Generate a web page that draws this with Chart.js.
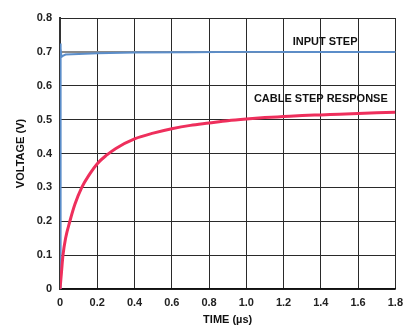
<!DOCTYPE html>
<html>
<head>
<meta charset="utf-8">
<script src="https://cdn.jsdelivr.net/npm/chart.js@4/dist/chart.umd.min.js"></script>
<style>
html,body{margin:0;padding:0;background:#fff;}
#c{display:block;}
</style>
</head>
<body>
<canvas id="c" width="410" height="335"></canvas>
<script>
// Data
const xTicks = [0, 0.2, 0.4, 0.6, 0.8, 1.0, 1.2, 1.4, 1.6, 1.8];
const yTicks = [0, 0.1, 0.2, 0.3, 0.4, 0.5, 0.6, 0.7, 0.8];

const cableTime  = [0, 0.008, 0.016, 0.03, 0.053, 0.08, 0.117, 0.16, 0.2, 0.25, 0.3, 0.4, 0.5, 0.6, 0.7, 0.8, 0.9, 1.0, 1.1, 1.2, 1.3, 1.4, 1.5, 1.6, 1.7, 1.8];
const cableVolts = [0, 0.05, 0.1, 0.15, 0.2, 0.25, 0.3, 0.34, 0.37, 0.395, 0.415, 0.443, 0.46, 0.473, 0.483, 0.49, 0.497, 0.502, 0.506, 0.509, 0.512, 0.514, 0.516, 0.518, 0.52, 0.522];

const inputTime  = [0, 0.002, 0.003, 0.005, 0.008, 0.015, 0.03, 0.1, 0.2, 0.4, 0.7, 1.0, 1.4, 1.8];
const inputVolts = [0, 0, 0.725, 0.71, 0.685, 0.688, 0.692, 0.694, 0.696, 0.698, 0.699, 0.7, 0.7, 0.7];

const labels = [
  {text: 'INPUT STEP', x: 1.423, y: 0.729},
  {text: 'CABLE STEP RESPONSE', x: 1.40, y: 0.560}
];

const toPts = (xs, ys) => xs.map((x, i) => ({x: x, y: ys[i]}));

const FONT = '"Liberation Sans", Arial, sans-serif';

const textPlugin = {
  id: 'textLabels',
  afterDatasetsDraw(chart) {
    const ctx = chart.ctx;
    const xs = chart.scales.x, ys = chart.scales.y;
    ctx.save();
    ctx.font = 'bold 11px ' + FONT;
    ctx.fillStyle = '#111';
    ctx.textAlign = 'center';
    ctx.textBaseline = 'middle';
    labels.forEach(l => ctx.fillText(l.text, xs.getPixelForValue(l.x), ys.getPixelForValue(l.y)));
    ctx.restore();
  }
};

new Chart(document.getElementById('c'), {
  type: 'scatter',
  data: {
    datasets: [
      {
        label: 'CABLE STEP RESPONSE',
        data: toPts(cableTime, cableVolts),
        showLine: true,
        borderColor: '#ee2f5c',
        borderWidth: 3,
        pointRadius: 0,
        tension: 0.3,
        cubicInterpolationMode: 'monotone'
      },
      {
        label: 'INPUT STEP',
        data: toPts(inputTime, inputVolts),
        showLine: true,
        borderColor: '#5b8dc9',
        borderWidth: 2,
        pointRadius: 0,
        tension: 0
      }
    ]
  },
  options: {
    responsive: false,
    animation: false,
    devicePixelRatio: 1,
    layout: {padding: {top: 18, right: 11, left: 0, bottom: 0}},
    plugins: {legend: {display: false}, tooltip: {enabled: false}},
    scales: {
      x: {
        type: 'linear',
        min: 0, max: 1.8,
        afterBuildTicks: s => { s.ticks = xTicks.map(v => ({value: v})); },
        afterFit: s => { s.height = 46; },
        ticks: {
          padding: 7,
          color: '#222',
          font: {family: FONT, size: 11, weight: 'bold'},
          callback: v => v === 0 ? '0' : v.toFixed(1)
        },
        grid: {color: '#2a2a2a', lineWidth: 1, drawTicks: false},
        border: {color: '#111', width: 1.5},
        title: {
          display: true, text: 'TIME (µs)', color: '#111',
          font: {family: FONT, size: 11, weight: 'bold'},
          padding: {top: 0, bottom: 8}
        }
      },
      y: {
        type: 'linear',
        min: 0, max: 0.8,
        afterBuildTicks: s => { s.ticks = yTicks.map(v => ({value: v})); },
        afterFit: s => { s.width = 60; },
        ticks: {
          padding: 8,
          color: '#222',
          font: {family: FONT, size: 11, weight: 'bold'},
          callback: v => v === 0 ? '0' : v.toFixed(1)
        },
        grid: {
          color: c => (c.tick && Math.abs(c.tick.value - 0.7) < 1e-9) ? '#8a8a8a' : '#2a2a2a',
          lineWidth: c => (c.tick && Math.abs(c.tick.value - 0.7) < 1e-9) ? 2 : 1,
          drawTicks: false
        },
        border: {color: '#333', width: 2},
        title: {
          display: true, text: 'VOLTAGE (V)', color: '#111',
          font: {family: FONT, size: 11, weight: 'bold'},
          padding: {top: 14, bottom: 0}
        }
      }
    }
  },
  plugins: [textPlugin]
});
</script>
</body>
</html>
